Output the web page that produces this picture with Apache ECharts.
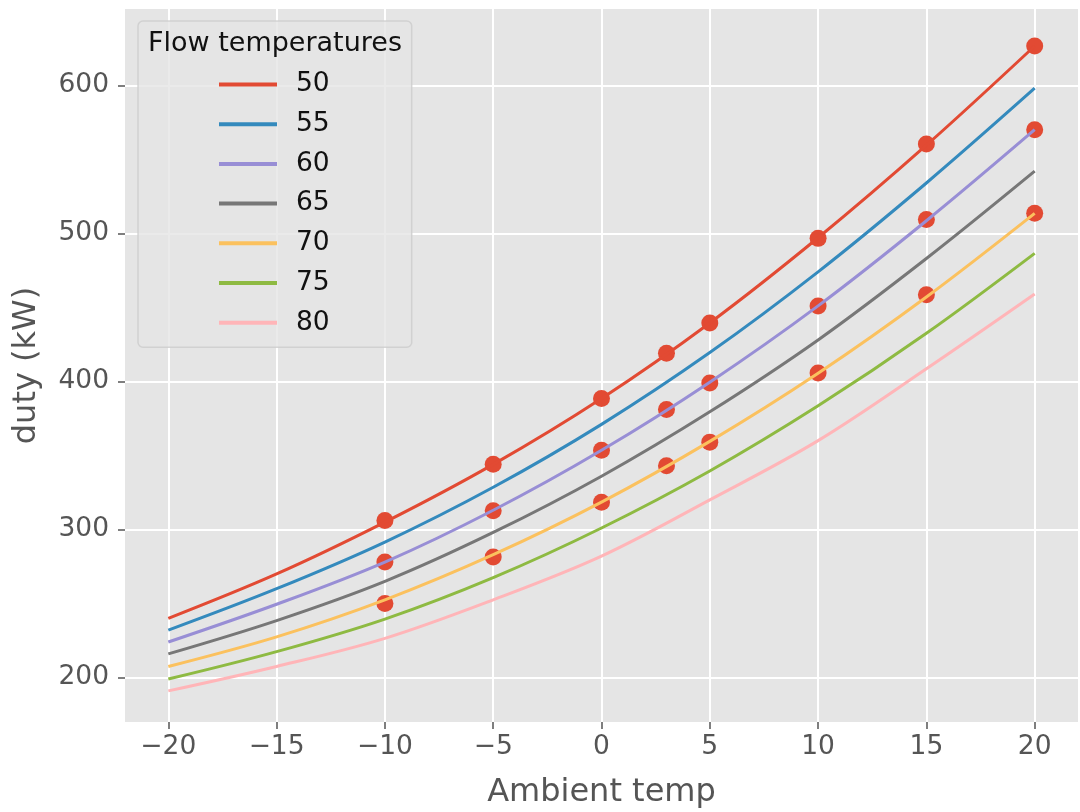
<!DOCTYPE html>
<html>
<head>
<meta charset="utf-8">
<script src="https://cdn.jsdelivr.net/npm/echarts@6/dist/echarts.min.js"></script>
<style>
html,body{margin:0;padding:0;background:#fff;}
#c{width:1080px;height:812px;}
</style>
</head>
<body>
<div id="c"></div>
<script>
// ---- data ----
const lineX = [-20, -15, -10, -5, 0, 5, 10, 15, 20];
const flowTemps = ['50', '55', '60', '65', '70', '75', '80'];
const duty50 = [240, 270, 305, 344, 388.5, 439.5, 497, 559.5, 626.5];
const duty55 = [232, 260, 291.5, 328.5, 371, 419.5, 474, 534, 598];
const duty60 = [224, 249.5, 278, 313, 353.5, 399.5, 451, 508.5, 570];
const duty65 = [216, 238.5, 265, 298, 336, 379.5, 428, 483, 542];
const duty70 = [207.5, 227.5, 252.5, 283, 318.5, 359.5, 405.5, 457, 513.5];
const duty75 = [199, 217.5, 239.5, 267.5, 301, 339.5, 383.5, 432.5, 486.5];
const duty80 = [191, 207.5, 226.5, 252.5, 282, 320, 360, 408.5, 459];

const pointX = [-10, -5, 0, 3, 5, 10, 15, 20];
const points50 = [306, 344, 388.5, 419, 439.5, 496.6, 560.4, 626.5];
const points60 = [278, 312.7, 353.5, 381, 399, 451, 509.3, 570];
const points70 = [250, 281.4, 318.4, 343, 359, 405.7, 458.5, 513.5];

const xTicks = [-20, -15, -10, -5, 0, 5, 10, 15, 20];
const yTicks = [200, 300, 400, 500, 600];

const colors = ['#E24A33', '#348ABD', '#988ED5', '#777777', '#FBC15E', '#8EBA42', '#FFB5B8'];
const lineSets = [duty50, duty55, duty60, duty65, duty70, duty75, duty80];
const pointSets = [points50, points60, points70];

const zip = (xs, ys) => xs.map((x, i) => [x, ys[i]]);

const series = [];
pointSets.forEach((ps, i) => {
  series.push({
    name: 'pts' + i,
    type: 'scatter',
    data: zip(pointX, ps),
    symbolSize: 17,
    itemStyle: { color: '#E24A33', opacity: 1 },
    z: 1,
    silent: true
  });
});
lineSets.forEach((ys, i) => {
  series.push({
    name: flowTemps[i],
    type: 'line',
    data: zip(lineX, ys),
    smooth: 0.35,
    showSymbol: false,
    symbol: 'none',
    lineStyle: { color: colors[i], width: 3 },
    itemStyle: { color: colors[i] },
    z: 3,
    silent: true
  });
});

const fmtMinus = v => String(v).replace('-', '\u2212');
const FONT = 'DejaVu Sans';

const chart = echarts.init(document.getElementById('c'), null, { renderer: 'canvas' });
chart.setOption({
  backgroundColor: '#ffffff',
  animation: false,
  textStyle: { fontFamily: FONT },
  grid: {
    left: 125, top: 9, width: 953, height: 713,
    outerBoundsMode: 'none', containLabel: false,
    show: true, backgroundColor: '#E5E5E5', borderWidth: 0
  },
  xAxis: {
    type: 'value', min: -22, max: 22,
    name: 'Ambient temp', nameLocation: 'middle', nameGap: 55,
    nameTextStyle: { color: '#555555', fontSize: 32, fontFamily: FONT },
    axisLine: { show: false, onZero: false },
    axisTick: { show: true, length: 7, lineStyle: { color: '#555555', width: 1.5 }, customValues: xTicks },
    axisLabel: { color: '#555555', fontSize: 26.5, fontFamily: FONT, margin: 12, customValues: xTicks, formatter: fmtMinus },
    splitLine: { show: true, lineStyle: { color: '#ffffff', width: 2 } }
  },
  yAxis: {
    type: 'value', min: 170, max: 651.5,
    name: 'duty (kW)', nameLocation: 'middle', nameGap: 82, nameRotate: 90,
    nameTextStyle: { color: '#555555', fontSize: 32, fontFamily: FONT },
    axisLine: { show: false, onZero: false },
    axisTick: { show: true, length: 7, lineStyle: { color: '#555555', width: 1.5 }, customValues: yTicks },
    axisLabel: { color: '#555555', fontSize: 26.5, fontFamily: FONT, margin: 16, customValues: yTicks },
    splitLine: { show: true, lineStyle: { color: '#ffffff', width: 2 } }
  },
  legend: {
    orient: 'vertical', left: 138, top: 21,
    data: flowTemps,
    icon: 'rect', itemWidth: 58, itemHeight: 4, itemGap: 12.7,
    padding: [50, 82, 11, 81],
    backgroundColor: 'rgba(229,229,229,0.8)',
    borderColor: 'rgba(204,204,204,0.8)', borderWidth: 1.5, borderRadius: 5,
    textStyle: { color: '#111111', fontSize: 26.5, fontFamily: FONT, lineHeight: 25, padding: [0, 0, 0, 14] }
  },
  graphic: [{
    type: 'text', z: 100,
    x: 275, y: 44,
    style: { text: 'Flow temperatures', fill: '#111111', font: '27px "DejaVu Sans"', textAlign: 'center', textVerticalAlign: 'middle' }
  }],
  series: series
});
</script>
</body>
</html>
